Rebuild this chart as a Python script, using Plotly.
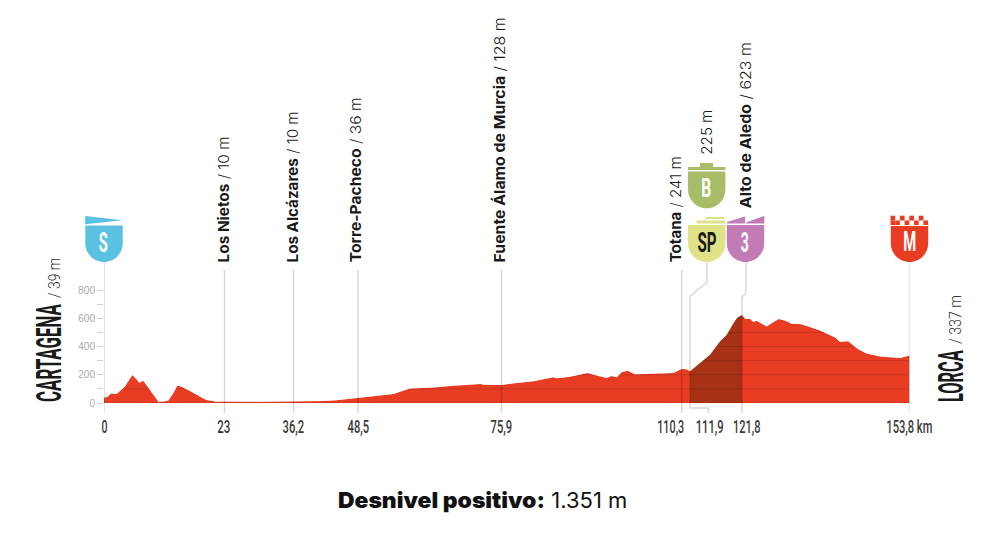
import json
import numpy as np
import plotly.graph_objects as go

W, H = 995, 545
X0_PX, X1_PX = 104, 909.5
Y0_PX, Y800_PX = 403, 290

profile_km = [0, 0.64, 1.34, 2.4, 4, 4.65, 5.4, 6.24, 6.75, 7.5, 8.5, 9.1, 10.4, 11.33, 12.3, 13.2, 14, 14.7, 15.79, 16.7, 18.7, 19.6, 21.5, 23, 30, 36.2, 38.4, 40, 41.9, 44.4, 48.5, 52.07, 55.25, 58.4, 62.9, 66.07, 69.3, 71.8, 72.6, 75.9, 78.8, 82, 85.8, 86.5, 89, 92.3, 94.1, 96, 96.9, 97.9, 98.9, 100, 101.4, 104.3, 106.8, 108.7, 110.3, 111.26, 111.9, 113.8, 115.7, 117.6, 118.9, 120.2, 120.9, 121.8, 122.4, 123.4, 124, 124.6, 126.5, 128.8, 130, 131.3, 132.9, 134.5, 136.7, 139.6, 140.5, 142.1, 144, 145.6, 148.2, 152, 153.8]
profile_m = [39, 43, 68, 64, 116, 152, 199, 166, 144, 158, 104, 70, 9, 10, 17, 68, 122, 117, 99, 80, 38, 22, 9, 10, 8, 10, 12, 16, 14, 20, 36, 47, 64, 102, 109, 121, 128, 135, 130, 128, 142, 154, 182, 175, 185, 213, 194, 177, 192, 182, 220, 229, 203, 206, 210, 213, 241, 239, 225, 282, 341, 435, 483, 566, 603, 623, 596, 594, 573, 582, 542, 594, 584, 561, 559, 542, 513, 464, 433, 438, 381, 350, 329, 319, 337]
climb_start_km, climb_end_km = 111.9, 121.8
grid_levels = [100, 200, 300, 400, 500, 600]
y_ticks = [0, 100, 200, 300, 400, 500, 600, 700, 800]
y_tick_text = ["0", "", "200", "", "400", "", "600", "", "800"]

marker_km = [23, 36.2, 48.5, 75.9, 110.3, 153.8, 0]
km_labels = ["0", "23", "36,2", "48,5", "75,9", "110,3", "111,9", "121,8", "153,8 km"]
km_values = [0, 23, 36.2, 48.5, 75.9, 110.3, 111.9, 121.8, 153.8]
km_label_shift = [0, 0, 0, 0, 0, -11, 19, 5, 0]
km_label_len = [6, 13, 21.5, 21.5, 21.5, 27, 28, 27.5, 46]
places = ["Los Nietos", "Los Alcázares", "Torre-Pacheco", "Fuente Álamo de Murcia", "Totana", "Alto de Aledo"]
place_alts = ["10 m", "10 m", "36 m", "128 m", "241 m", "623 m"]

RED = "#E83D22"
DARK = "#A83215"
LINE = "rgba(0,0,0,0.16)"


def fx(p):
    return p / W


def fy(p):
    return 1 - p / H


def path(points):
    return "M " + " L ".join(f"{fx(x):.5f},{fy(y):.5f}" for x, y in points) + " Z"


def shield(cx, top, bottom, color):
    hw = 18.7
    pts = [(cx - hw, top), (cx + hw, top), (cx + hw, bottom - 18.7)]
    pts += [(cx + hw * np.cos(t), bottom - 18.7 + 18.7 * np.sin(t)) for t in np.linspace(0, np.pi, 16)]
    return dict(type="path", xref="paper", yref="paper", path=path(pts), fillcolor=color, line_width=0, layer="above")


def poly(points, color):
    return dict(type="path", xref="paper", yref="paper", path=path(points), fillcolor=color, line_width=0, layer="above")


def seg(points):
    return dict(type="path", xref="paper", yref="paper",
                path="M " + " L ".join(f"{fx(x):.5f},{fy(y):.5f}" for x, y in points),
                line=dict(color=LINE, width=1.5), fillcolor="rgba(0,0,0,0)", layer="above")


km = np.array(profile_km)
m = np.array(profile_m)

fig = go.Figure()
fig.add_trace(go.Scatter(x=km, y=m, mode="lines", fill="tozeroy", fillcolor=RED, line=dict(color=RED, width=0.5), hoverinfo="skip"))
mask = (km >= climb_start_km) & (km <= climb_end_km)
fig.add_trace(go.Scatter(x=km[mask], y=m[mask], mode="lines", fill="tozeroy", fillcolor=DARK, line=dict(color=DARK, width=0.5), hoverinfo="skip"))
for lv in grid_levels:
    fig.add_trace(go.Scatter(x=[0, 153.8], y=[lv, lv], mode="lines", line=dict(color="rgba(0,0,0,0.14)", width=1), hoverinfo="skip"))
# white cover above the profile hides the grid lines outside the red area
fig.add_trace(go.Scatter(x=km, y=m, mode="lines", line=dict(width=0), hoverinfo="skip"))
fig.add_trace(go.Scatter(x=km, y=[800] * len(km), mode="lines", line=dict(width=0), fill="tonexty", fillcolor="white", hoverinfo="skip"))

shapes = []
for k in marker_km:
    top = 262 if k in (0, 153.8) else 270
    shapes.append(dict(type="line", xref="x", yref="paper", x0=k, x1=k, y0=fy(top), y1=fy(413), line=dict(color=LINE, width=1.5)))
shapes.append(seg([(707, 262), (707, 282), (690, 296.5), (690, 408), (708.5, 408), (708.5, 413)]))
shapes.append(seg([(746, 262), (746, 293), (742, 297), (742, 413)]))
shapes.append(dict(type="line", xref="x", yref="y", x0=0, x1=153.8, y0=0, y1=0, line=dict(color="rgba(0,0,0,0.12)", width=1)))

BLUE = "#5BC1E3"
shapes.append(shield(104, 225.5, 262, BLUE))
shapes.append(poly([(85.2, 216), (122.6, 220.3), (85.2, 224.3)], BLUE))
GREEN = "#A9BC68"
shapes.append(shield(706.7, 171.5, 208.3, GREEN))
shapes.append(poly([(688, 167), (700, 167), (700, 163), (713, 163), (713, 167), (725.5, 167), (725.5, 170), (688, 170)], GREEN))
YEL = "#DFE286"
shapes.append(shield(706.7, 225, 262, YEL))
shapes.append(poly([(688, 223.5), (696.5, 223.5), (696.5, 220.5), (705.5, 220.5), (705.5, 217), (724.5, 217), (724.5, 219), (706, 219), (706, 220.5), (725, 220.5), (725, 223.5)], YEL))
PINK = "#C27BB4"
shapes.append(shield(745.5, 225, 262, PINK))
shapes.append(poly([(727, 223.5), (727, 222), (745, 216.5), (745, 223.5)], PINK))
shapes.append(poly([(746, 223.5), (747, 222), (764.3, 216), (764.3, 223.5)], PINK))
shapes.append(shield(909.5, 226, 262, RED))
sq = 37.6 / 8
for i in range(4):
    x = 890.5 + 2 * i * sq
    shapes.append(poly([(x, 215.7), (x + sq, 215.7), (x + sq, 220.5), (x, 220.5)], RED))
    xx = x + sq
    shapes.append(poly([(xx, 220.5), (xx + sq, 220.5), (xx + sq, 225), (xx, 225)], RED))
shapes.append(poly([(890.5, 220.5), (890.5 + sq, 220.5), (890.5 + sq, 225), (890.5, 225)], RED))

ann = []
squeeze = {}


def text(x, y, t, size, color="#1a1a1a", fam="Roboto", angle=0, weight=400, length=None, plain=None):
    ann.append(dict(xref="paper", yref="paper", x=fx(x), y=fy(y), text=t, showarrow=False, textangle=angle,
                    font=dict(size=size, color=color, family=fam, weight=weight), xanchor="center", yanchor="middle"))
    if length:
        squeeze[plain or t] = length


place_x = [223, 292, 355.5, 499.5, 675, 745.5]
place_top = [137, 112, 98, 18, 157, 42]
place_bottom = [263, 263, 263, 263, 263, 208]
for name, alt, x, a, b in zip(places, place_alts, place_x, place_top, place_bottom):
    text(x, (a + b) / 2, f"<b>{name}</b> / {alt}", 15, fam="Inter", angle=-90, weight=300, length=b - a, plain=f"{name} / {alt}")
text(706, 132.5, "225 m", 15, fam="Inter", angle=-90, weight=300, length=45)

for lab, k, s, n in zip(km_labels, km_values, km_label_shift, km_label_len):
    px = X0_PX + (X1_PX - X0_PX) * k / 153.8 + s
    text(px, 426, lab, 19, color="#3a3a3a", weight=500, length=n)

text(103.5, 243, "S", 27, color="white", weight=700, length=9)
text(706.7, 188, "B", 26, color="white", weight=700, length=10)
text(706.7, 243, "SP", 27, color="#1a1a1a", weight=700, length=19)
text(745, 243, "3", 27, color="white", weight=700, length=8)
text(909.5, 242, "M", 27, color="white", weight=700, length=13)

text(48.5, 353, "CARTAGENA", 35, weight=700, angle=-90, length=98)
text(54, 278, "/ 39 m", 16, color="#333333", weight=300, angle=-90, length=40)
text(950.5, 376, "LORCA", 35, weight=700, angle=-90, length=52)
text(955, 320, "/ 337 m", 16, color="#333333", weight=300, angle=-90, length=49)

text(441.5, 500, "Desnivel positivo:", 22, color="#111111", fam="Inter", weight=900, length=207)
text(589, 500, "1.351 m", 21, color="#111111", fam="Inter", weight=400, length=76)

fig.update_layout(
    width=W, height=H, margin=dict(l=0, r=0, t=0, b=0, pad=0), paper_bgcolor="white", plot_bgcolor="rgba(0,0,0,0)",
    showlegend=False, shapes=shapes, annotations=ann,
    xaxis=dict(domain=[fx(X0_PX), fx(X1_PX)], range=[0, 153.8], visible=False, fixedrange=True, automargin=False),
    yaxis=dict(domain=[fy(Y0_PX), fy(Y800_PX)], range=[0, 800], tickmode="array", tickvals=y_ticks, ticktext=y_tick_text,
               ticks="outside", ticklen=6, tickcolor="#d0d0d0", tickwidth=1, showgrid=False, zeroline=False, showline=False,
               tickfont=dict(size=10, color="#aaaaaa", family="Liberation Sans"), fixedrange=True, automargin=False),
)
js = """
document.body.style.margin='0';document.body.style.overflow='hidden';
var SQ = %s;
document.querySelectorAll('.annotation-text').forEach(function(t){
  var n = SQ[t.textContent];
  if(n){t.setAttribute('textLength', n);t.setAttribute('lengthAdjust','spacingAndGlyphs');}
});
""" % json.dumps(squeeze, ensure_ascii=False)
fig.write_html("out.html", config={"displayModeBar": False}, post_script=js)
